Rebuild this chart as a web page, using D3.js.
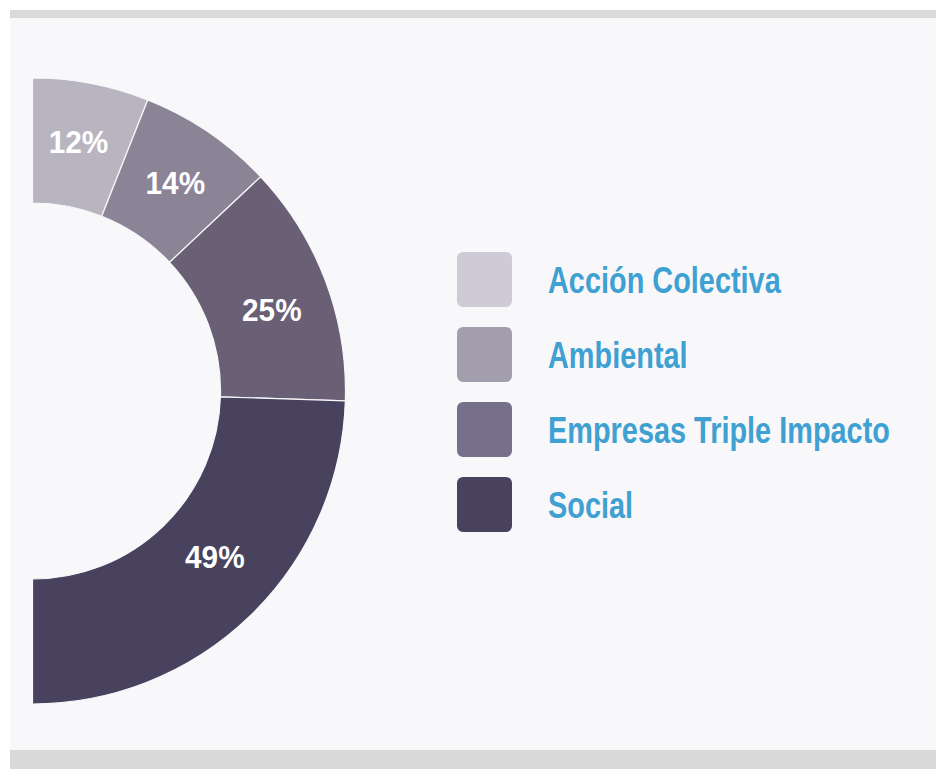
<!DOCTYPE html>
<html>
<head>
<meta charset="utf-8">
<script src="https://cdn.jsdelivr.net/npm/d3@7"></script>
<style>
  body { margin: 0; background: #fff; }
  svg text { font-family: "Liberation Sans", Arial, sans-serif; font-weight: bold; }
</style>
</head>
<body>
<div id="chart"></div>
<script>
// data
const categories = ["Acción Colectiva", "Ambiental", "Empresas Triple Impacto", "Social"];
const shares = [12, 14, 25, 49];
const arcColors = ["#b8b5c1", "#8b8496", "#696076", "#48425e"];
const legendColors = ["#cecbd6", "#a29eae", "#76708a", "#48425e"];

const width = 936, height = 769;
const cx = 32.5, cy = 391;
const outerR = 313, innerR = 188;
// labels in the original are hand placed, a few px off the centroid
const labelNudge = [[-1, -3], [2, -1], [5, 7], [8, -14]];

const svg = d3.select("#chart")
    .append("svg")
    .attr("width", width)
    .attr("height", height);

// panel + grey bands
svg.append("rect").attr("x", 10).attr("y", 10).attr("width", width - 10).attr("height", height - 10).attr("fill", "#f8f8fb");
svg.append("rect").attr("x", 10).attr("y", 10).attr("width", width - 10).attr("height", 8).attr("fill", "#dadada");
svg.append("rect").attr("x", 10).attr("y", 750).attr("width", width - 10).attr("height", 19).attr("fill", "#dadada");

// half donut, right side only
const pie = d3.pie().sort(null).startAngle(0).endAngle(Math.PI);
const arc = d3.arc().innerRadius(innerR).outerRadius(outerR);
const arcs = pie(shares);

const g = svg.append("g").attr("transform", `translate(${cx},${cy})`);

g.selectAll("path")
    .data(arcs)
    .enter().append("path")
    .attr("d", arc)
    .attr("fill", (d, i) => arcColors[i])
    .attr("stroke", "#f8f8fb")
    .attr("stroke-width", 1.2);

// no condensed font installed, so squeeze the glyphs horizontally
g.selectAll("text.pct")
    .data(arcs)
    .enter().append("text")
    .attr("class", "pct")
    .attr("transform", (d, i) => {
        const [x, y] = arc.centroid(d);
        return `translate(${x + labelNudge[i][0]},${y + labelNudge[i][1]}) scale(0.96,1)`;
    })
    .attr("text-anchor", "middle")
    .attr("dy", "0.36em")
    .attr("fill", "#fff")
    .attr("font-size", 31)
    .text(d => d.data + "%");

// legend
const legend = svg.append("g").attr("transform", "translate(457,252)");
const rows = legend.selectAll("g")
    .data(categories)
    .enter().append("g")
    .attr("transform", (d, i) => `translate(0,${i * 75})`);

rows.append("rect")
    .attr("width", 55)
    .attr("height", 55)
    .attr("rx", 6)
    .attr("fill", (d, i) => legendColors[i]);

const labels = rows.append("text")
    .attr("y", 27.5)
    .attr("dy", "0.36em")
    .attr("fill", "#3fa0d2")
    .attr("font-size", 37)
    .text(d => d);

// longest label spans ~342px in the reference
const longest = d3.max(labels.nodes(), n => n.getComputedTextLength());
const sx = 342 / longest;
labels.attr("transform", `translate(91,0) scale(${sx},1)`);
</script>
</body>
</html>
